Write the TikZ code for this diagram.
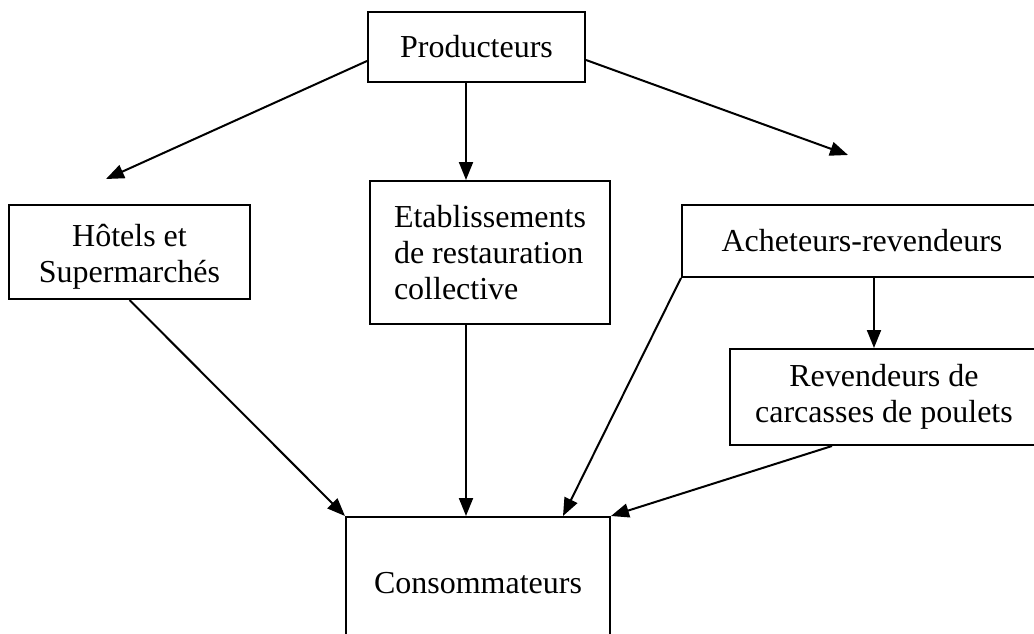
\documentclass[tikz,border=0pt]{standalone}
\usepackage{fontspec}
\setmainfont{Liberation Serif}
\usetikzlibrary{arrows.meta,calc}
\begin{document}
\begin{tikzpicture}[x=1pt,y=-1pt,
  box/.style={draw,line width=2pt,inner sep=0pt,font=\fontsize{32}{36}\selectfont},
  txt/.style={inner sep=0pt,font=\fontsize{32}{36}\selectfont,align=center},
  arr/.style={line width=2pt,-{Triangle[length=18pt,width=14pt]}}]
\useasboundingbox (0,0) rectangle (1034,634);
\clip (0,0) rectangle (1034,634);
\node[box,minimum width=217pt,minimum height=70pt] (prod) at (476.5,47) {Producteurs};
\node[box,minimum width=241pt,minimum height=94pt] (hotel) at (129.5,252) {};
\node[txt,yshift=-5pt] (hoteltxt) at (hotel.center) {Hôtels et\\Supermarchés};
\node[box,minimum width=240pt,minimum height=143pt,align=left] (etab) at (490,252.5) {Etablissements\\de restauration\\collective};
\node[box,minimum width=360pt,minimum height=72pt] (ach) at (862,241) {Acheteurs-revendeurs};
\node[box,minimum width=308pt,minimum height=96pt,align=center] (rev) at (884,397) {Revendeurs de\\carcasses de poulets};
\node[box,minimum width=264pt,minimum height=132pt] (cons) at (478,583) {Consommateurs};
\coordinate (lfree) at (106,179);
\coordinate (rfree) at (848,155);
\draw[arr] ($(prod.west)+(0,14)$) -- (lfree);
\draw[arr] ($(prod.east)+(0,13)$) -- (rfree);
\draw[arr] ($(prod.south)+(-10.5,0)$) -- ($(etab.north)+(-24,0)$);
\draw[arr] (hotel.south) -- (cons.north west);
\draw[arr] ($(etab.south)+(-24,0)$) -- ($(cons.north)+(-12,0)$);
\draw[arr] (ach.south west) -- ($(cons.north)+(85,0)$);
\draw[arr] ($(ach.south)+(12,0)$) -- ($(rev.north)+(-10,0)$);
\draw[arr] ($(rev.south)+(-52,0)$) -- (cons.north east);
\end{tikzpicture}
\end{document}
